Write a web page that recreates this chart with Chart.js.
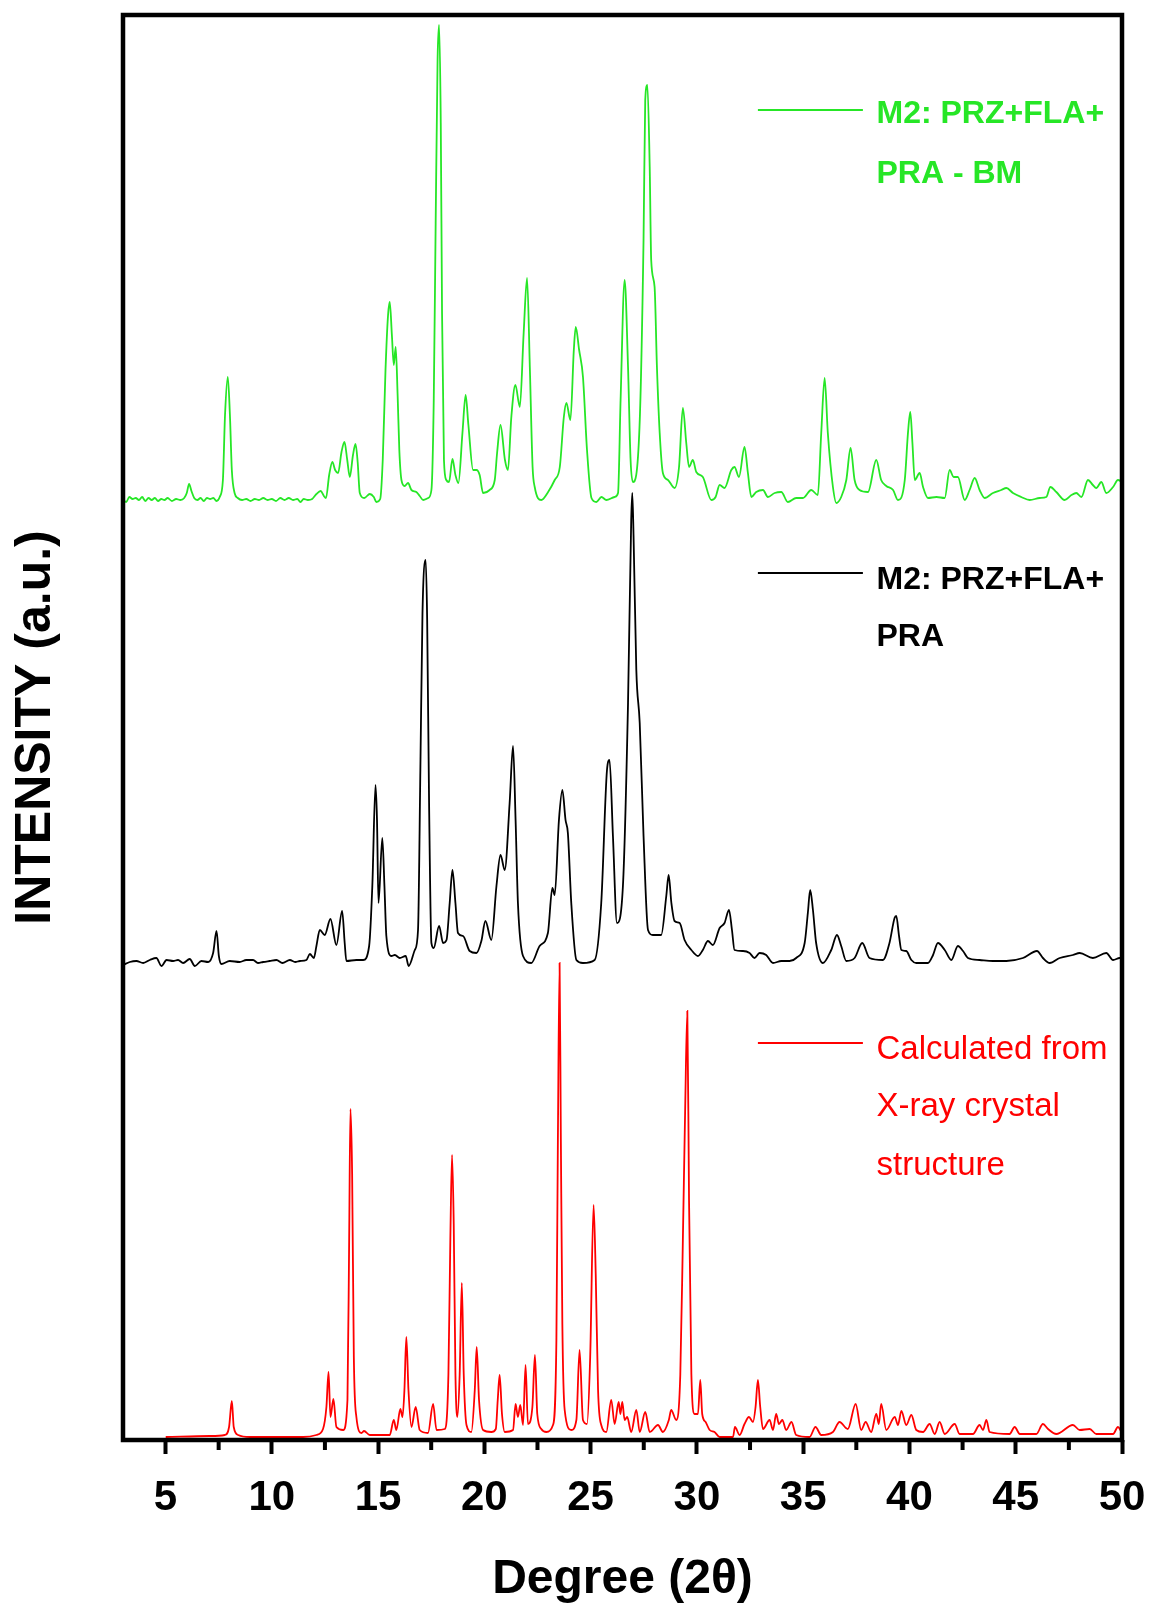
<!DOCTYPE html>
<html>
<head>
<meta charset="utf-8">
<script src="https://cdn.jsdelivr.net/npm/chart.js@4.4.1/dist/chart.umd.min.js"></script>
<style>
  html, body { margin: 0; padding: 0; background: #fff; }
  #wrap { position: relative; width: 1149px; height: 1604px; }
</style>
</head>
<body>
<div id="wrap"><canvas id="xrdChart"></canvas></div>
<script>
// PXRD patterns, [2θ, intensity above own baseline] in arbitrary units
const GREEN_BM = [
  [3.0,0],[3.15,-2],[3.3,3],[3.45,1],[3.6,2],[3.75,0],[3.9,3],[4.05,-1],[4.2,2],[4.35,0],[4.5,2],[4.65,-1],[4.8,1],[4.95,0],[5.1,2],[5.3,-1],[5.5,1],[5.7,0],[5.88,2],
  [6.0,7],[6.11,16],[6.22,9],[6.35,2],[6.5,0],[6.65,2],[6.8,-1],[6.95,2],[7.1,1],[7.25,2],[7.4,-1],[7.55,3],[7.7,20],
  [7.8,85],[7.93,123],[8.03,85],[8.12,30],[8.25,7],[8.4,2],
  [8.6,0],[8.8,1],[9.0,-1],[9.2,1],[9.4,0],[9.6,2],[9.8,0],[10.0,1],[10.2,-1],[10.4,2],[10.6,0],[10.8,2],[11.0,0],[11.2,1],[11.35,-2],[11.5,1],[11.7,0],[11.9,1],
  [12.1,6],[12.3,9],[12.45,4],[12.55,2],[12.7,25],[12.85,38],[12.98,30],[13.12,27],[13.28,48],[13.42,58],[13.55,40],[13.67,23],[13.82,45],[13.94,56],[14.04,38],[14.14,7],
  [14.35,2],[14.61,6],[14.8,3],[14.92,-2],[15.1,1],[15.22,40],[15.35,130],[15.47,185],[15.55,198],[15.65,165],[15.74,135],[15.83,153],[15.92,105],[16.0,50],[16.1,20],
  [16.25,14],[16.41,17],[16.57,10],[16.8,8],[16.96,4],[17.12,0],[17.36,2],[17.51,10],[17.62,100],[17.71,277],[17.8,440],[17.87,475],[17.95,377],[18.01,187],[18.1,40],
  [18.21,20],[18.34,18],[18.5,41],[18.64,25],[18.78,17],[18.97,67],[19.12,105],[19.25,75],[19.47,30],[19.63,30],[19.78,25],[19.94,7],[20.25,10],[20.49,20],[20.6,47],
  [20.76,75],[20.97,40],[21.11,30],[21.27,83],[21.46,115],[21.67,93],[21.85,167],[22.01,222],[22.14,133],[22.27,33],[22.37,13],[22.68,0],[23.0,8],[23.31,20],[23.55,33],
  [23.74,83],[23.86,97],[24.05,80],[24.21,150],[24.3,173],[24.46,150],[24.64,123],[24.83,50],[25.04,2],[25.27,-2],[25.51,3],[25.74,0],[26.13,3],[26.29,7],[26.41,100],
  [26.6,220],[26.76,133],[26.88,40],[26.99,18],[27.3,73],[27.49,260],[27.57,400],[27.67,415],[27.78,333],[27.85,240],[28.01,213],[28.12,133],[28.25,67],[28.4,27],
  [28.64,20],[28.95,12],[29.16,33],[29.34,92],[29.5,57],[29.63,33],[29.81,40],[29.97,28],[30.28,23],[30.68,0],[30.88,3],[31.07,15],[31.3,12],[31.62,30],[31.77,33],
  [31.98,23],[32.24,53],[32.4,27],[32.56,3],[32.79,8],[33.11,10],[33.34,3],[33.66,7],[33.97,8],[34.28,-2],[34.67,2],[34.99,2],[35.38,10],[35.69,5],[35.85,67],
  [36.01,122],[36.16,67],[36.4,13],[36.56,-3],[36.79,3],[37.03,20],[37.23,52],[37.42,20],[37.65,10],[38.05,8],[38.44,40],[38.67,20],[38.91,14],[39.23,10],[39.46,0],
  [39.78,20],[39.93,67],[40.04,88],[40.14,57],[40.25,20],[40.48,27],[40.64,13],[40.87,2],[41.27,3],[41.66,2],[41.89,30],[42.08,23],[42.28,23],[42.6,0],[42.83,10],
  [43.07,22],[43.3,10],[43.54,2],[43.93,7],[44.32,10],[44.56,12],[44.87,7],[45.26,3],[45.66,0],[46.13,2],[46.44,3],[46.63,13],[46.91,8],[47.3,0],[47.62,5],
  [47.85,7],[48.09,3],[48.4,20],[48.63,15],[48.79,12],[49.03,18],[49.26,7],[49.58,13],[49.81,20],[50.0,18]
];

const BLACK_PRA = [
  [3.01,-2],[3.32,1],[3.63,2],[3.95,0],[4.26,3],[4.57,5],[4.81,-3],[5.05,3],[5.36,2],[5.59,3],[5.83,0],[6.14,4],[6.38,-3],[6.69,2],[7.01,1],[7.24,10],[7.4,32],
  [7.51,7],[7.63,-1],[8.02,2],[8.49,1],[8.8,3],[9.12,3],[9.35,0],[9.59,1],[9.9,2],[10.22,3],[10.5,0],[10.85,3],[11.1,1],[11.32,2],[11.63,3],[11.79,9],[11.98,5],
  [12.1,17],[12.26,33],[12.49,28],[12.76,44],[13.04,18],[13.31,52],[13.43,20],[13.51,2],[13.98,3],[14.3,3],[14.58,17],[14.73,77],[14.88,178],[14.95,143],[15.02,60],
  [15.2,125],[15.3,77],[15.39,27],[15.63,7],[15.79,8],[16.02,5],[16.3,7],[16.44,-3],[16.73,13],[16.88,33],[16.99,193],[17.09,350],[17.24,403],[17.31,343],[17.4,160],
  [17.51,20],[17.62,15],[17.87,37],[18.06,20],[18.22,23],[18.37,60],[18.5,93],[18.64,60],[18.76,30],[19.0,27],[19.31,12],[19.63,10],[19.86,22],[20.05,42],[20.33,23],
  [20.57,77],[20.76,108],[20.96,93],[21.19,160],[21.35,217],[21.47,143],[21.58,60],[21.82,7],[22.21,0],[22.6,17],[22.99,30],[23.2,75],[23.31,68],[23.51,143],[23.67,173],
  [23.82,143],[23.93,130],[24.09,60],[24.33,3],[24.64,0],[25.19,3],[25.5,60],[25.77,193],[25.89,203],[26.05,127],[26.24,40],[26.52,77],[26.76,260],[26.91,443],[26.96,470],
  [27.02,427],[27.15,293],[27.31,240],[27.49,127],[27.7,33],[27.93,28],[28.32,28],[28.56,67],[28.67,88],[28.8,60],[28.95,42],[29.19,40],[29.42,23],[29.74,13],[30.05,7],
  [30.28,13],[30.52,22],[30.75,18],[31.07,35],[31.3,40],[31.51,53],[31.65,33],[31.77,13],[32.17,12],[32.48,10],[32.71,5],[32.95,10],[33.26,8],[33.58,0],[33.97,2],
  [34.36,2],[34.67,5],[35.07,20],[35.22,50],[35.33,73],[35.46,53],[35.61,20],[35.93,0],[36.32,13],[36.59,28],[36.79,17],[37.03,2],[37.42,5],[37.78,20],[38.12,5],
  [38.75,3],[39.06,20],[39.3,45],[39.38,47],[39.51,27],[39.62,13],[39.85,12],[40.09,3],[40.32,0],[40.87,0],[41.11,8],[41.34,20],[41.66,13],[41.97,3],[42.28,17],
  [42.52,12],[42.75,5],[43.3,3],[43.93,2],[44.56,2],[45.34,5],[46.0,12],[46.28,5],[46.6,0],[47.07,5],[47.69,8],[48.01,10],[48.63,5],[49.26,10],[49.58,3],[49.89,5],[50.0,5]
];

const RED_CALC = [
  [5.01,0],[7.08,1],[7.79,2],[7.99,10],[8.12,36],[8.21,10],[8.42,2],[8.97,0],[11.47,0],[12.1,2],[12.41,8],[12.57,30],[12.67,65],[12.76,20],[12.9,38],[13.04,10],
  [13.36,7],[13.56,37],[13.64,197],[13.7,328],[13.78,263],[13.86,80],[13.98,20],[14.22,4],[14.34,6],[14.61,2],[15.55,2],[15.74,17],[15.86,7],[16.05,28],[16.15,20],
  [16.24,47],[16.33,100],[16.43,47],[16.57,10],[16.77,30],[16.96,7],[17.35,4],[17.59,33],[17.75,7],[18.14,8],[18.31,63],[18.4,197],[18.48,282],[18.56,213],[18.64,63],
  [18.73,20],[18.84,63],[18.94,154],[19.03,63],[19.16,12],[19.39,5],[19.55,47],[19.64,90],[19.75,37],[19.94,7],[20.33,5],[20.54,8],[20.63,37],[20.72,62],[20.83,23],
  [20.96,5],[21.35,7],[21.47,33],[21.58,20],[21.69,32],[21.82,12],[21.94,72],[22.05,13],[22.26,30],[22.38,82],[22.49,23],[22.68,8],[22.92,5],[23.23,12],[23.39,97],
  [23.46,297],[23.54,474],[23.6,297],[23.67,113],[23.78,27],[24.09,7],[24.33,17],[24.48,87],[24.64,17],[24.83,13],[24.98,80],[25.14,232],[25.24,163],[25.35,47],[25.5,12],
  [25.74,5],[25.97,37],[26.13,13],[26.32,35],[26.4,23],[26.49,35],[26.6,17],[26.72,20],[26.91,5],[27.15,27],[27.31,5],[27.57,25],[27.78,5],[28.17,12],[28.4,5],
  [28.68,17],[28.79,27],[29.03,17],[29.22,63],[29.34,197],[29.45,330],[29.55,426],[29.63,237],[29.74,63],[29.89,23],[30.05,23],[30.16,57],[30.25,23],[30.41,15],[30.6,7],
  [30.83,5],[31.07,0],[31.7,0],[31.79,10],[32.01,2],[32.24,13],[32.45,20],[32.64,15],[32.76,30],[32.87,57],[32.98,30],[33.11,8],[33.42,17],[33.58,7],[33.73,23],
  [33.86,13],[34.02,17],[34.2,7],[34.45,15],[34.67,2],[35.3,0],[35.58,10],[35.85,2],[36.4,5],[36.71,15],[37.1,8],[37.47,33],[37.73,7],[37.94,15],[38.2,5],
  [38.44,23],[38.56,13],[38.67,33],[38.91,7],[39.31,20],[39.46,12],[39.62,26],[39.85,12],[40.09,22],[40.32,7],[40.64,5],[40.95,13],[41.19,3],[41.42,15],[41.66,3],
  [42.13,13],[42.36,3],[42.99,3],[43.3,12],[43.46,7],[43.62,17],[43.77,5],[44.71,3],[44.95,10],[45.19,3],[45.97,3],[46.28,13],[46.52,8],[46.91,3],[47.69,12],
  [48.01,7],[48.48,8],[48.79,3],[49.58,3],[49.81,10],[49.97,5]
];

// vertical stacking of the three patterns
const GREEN_OFFSET = 940;
const BLACK_OFFSET = 477;
const RED_OFFSET = 3;

const MAJOR_TICKS = [5, 10, 15, 20, 25, 30, 35, 40, 45, 50];
const MINOR_TICKS = [7.5, 12.5, 17.5, 22.5, 27.5, 32.5, 37.5, 42.5, 47.5];

const GREEN_LABEL = ['M2: PRZ+FLA+', 'PRA - BM'];
const BLACK_LABEL = ['M2: PRZ+FLA+', 'PRA'];
const RED_LABEL = ['Calculated from', 'X-ray crystal', 'structure'];

const GREEN = '#26e626';
const BLACK = '#000000';
const RED = '#ff0000';
const FONT = '"Liberation Sans", Arial, Helvetica, sans-serif';

const stack = (rows, offset) => rows.map(([x, y]) => ({ x, y: y + offset }));

// key: sample line from 2θ 32.87 to 37.81, text starting at 38.45; rows in y units
const KEYS = [
  { color: GREEN, bold: true, size: 32, lineY: 1330, rows: [1326, 1266], text: GREEN_LABEL },
  { color: BLACK, bold: true, size: 32, lineY: 867, rows: [860, 803], text: BLACK_LABEL },
  { color: RED, bold: false, size: 33, lineY: 397, rows: [390, 333, 274], text: RED_LABEL },
];

const frameAndKeys = {
  id: 'frameAndKeys',
  afterDraw(chart) {
    const { ctx, chartArea: a, scales: { x, y } } = chart;
    ctx.save();
    ctx.strokeStyle = '#000';
    ctx.lineWidth = 4;
    MINOR_TICKS.forEach((v) => {
      const px = x.getPixelForValue(v);
      ctx.beginPath();
      ctx.moveTo(px, a.bottom);
      ctx.lineTo(px, a.bottom + 10);
      ctx.stroke();
    });
    ctx.lineWidth = 4.5;
    ctx.strokeRect(a.left, a.top, a.right - a.left, a.bottom - a.top);

    KEYS.forEach((k) => {
      const ly = y.getPixelForValue(k.lineY);
      ctx.strokeStyle = k.color;
      ctx.lineWidth = 1.8;
      ctx.beginPath();
      ctx.moveTo(x.getPixelForValue(32.87), ly);
      ctx.lineTo(x.getPixelForValue(37.81), ly);
      ctx.stroke();
      ctx.fillStyle = k.color;
      ctx.font = `${k.bold ? 'bold ' : ''}${k.size}px ${FONT}`;
      ctx.textAlign = 'left';
      ctx.textBaseline = 'middle';
      k.text.forEach((t, i) => {
        ctx.fillText(t, x.getPixelForValue(38.45), y.getPixelForValue(k.rows[i]));
      });
    });
    ctx.restore();
  },
};

new Chart(document.getElementById('xrdChart'), {
  type: 'line',
  data: {
    datasets: [
      { label: 'M2: PRZ+FLA+PRA - BM', data: stack(GREEN_BM, GREEN_OFFSET), borderColor: GREEN, borderWidth: 1.8 },
      { label: 'M2: PRZ+FLA+PRA', data: stack(BLACK_PRA, BLACK_OFFSET), borderColor: BLACK, borderWidth: 1.8 },
      { label: 'Calculated from X-ray crystal structure', data: stack(RED_CALC, RED_OFFSET), borderColor: RED, borderWidth: 1.8 },
    ],
  },
  options: {
    responsive: true,
    maintainAspectRatio: false,
    animation: false,
    devicePixelRatio: 1,
    layout: { padding: { top: 15, right: 27, left: 0, bottom: 0 } },
    elements: {
      point: { radius: 0, hoverRadius: 0 },
      line: { cubicInterpolationMode: 'monotone', fill: false },
    },
    plugins: {
      legend: { display: false },
      tooltip: { enabled: false },
    },
    scales: {
      x: {
        type: 'linear',
        min: 3,
        max: 50,
        afterBuildTicks(scale) {
          scale.ticks = MAJOR_TICKS.map((v) => ({ value: v }));
        },
        afterFit(scale) {
          // fixed axis band; the "50" label may overhang the right margin
          scale.height = 164;
          scale.paddingLeft = 0;
          scale.paddingRight = 0;
        },
        border: { display: false },
        grid: { drawOnChartArea: false, drawTicks: true, tickLength: 14, tickWidth: 4, tickColor: '#000' },
        ticks: {
          color: '#000',
          padding: 19,
          maxRotation: 0,
          autoSkip: false,
          font: { family: FONT, size: 42, weight: 'bold' },
        },
        title: {
          display: true,
          text: 'Degree (2θ)',
          color: '#000',
          font: { family: FONT, size: 48, weight: 'bold', lineHeight: 1 },
          padding: { top: 0, bottom: 0 },
        },
      },
      y: {
        min: 0,
        max: 1425,
        afterFit(scale) {
          scale.width = 123;
        },
        border: { display: false },
        grid: { display: false },
        ticks: { display: false },
        title: {
          display: true,
          text: 'INTENSITY (a.u.)',
          color: '#000',
          font: { family: FONT, size: 50, weight: 'bold', lineHeight: 1 },
          padding: { top: 11, bottom: 0 },
        },
      },
    },
  },
  plugins: [frameAndKeys],
});
</script>
</body>
</html>
